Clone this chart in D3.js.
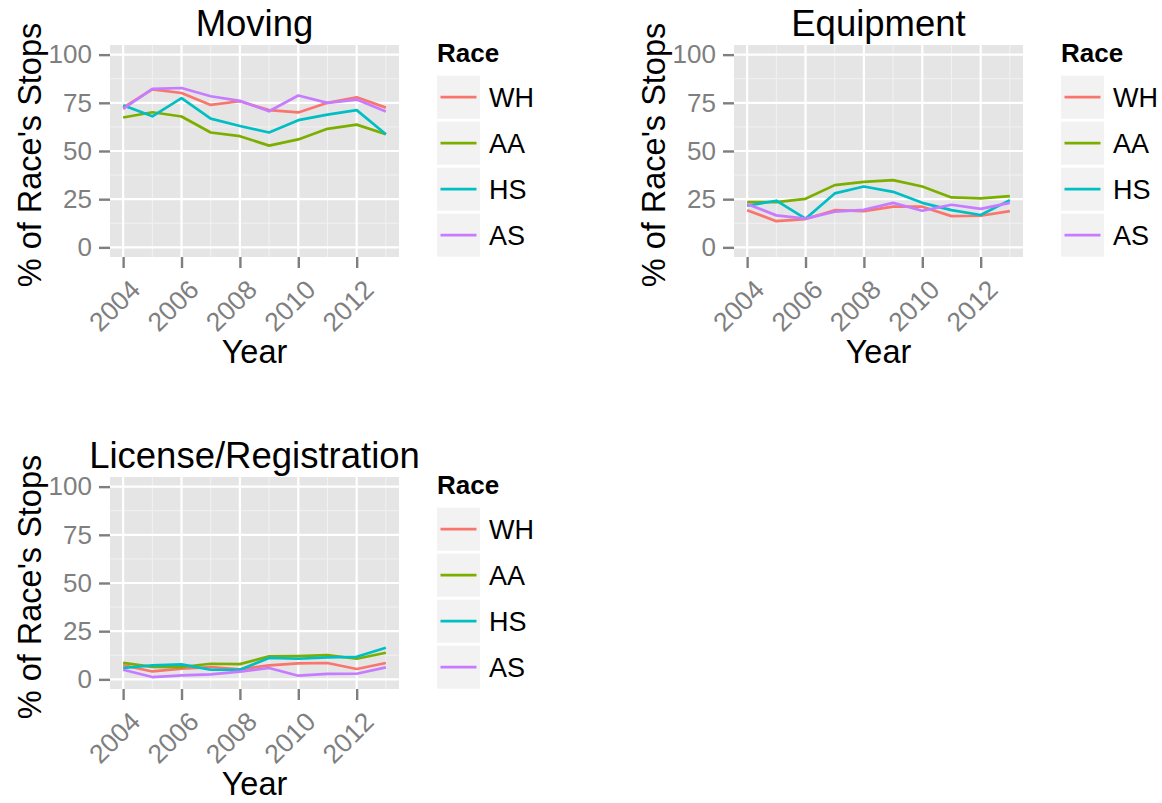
<!DOCTYPE html>
<html>
<head>
<meta charset="utf-8">
<script src="https://cdn.jsdelivr.net/npm/d3@7"></script>
<style>
  html, body { margin: 0; padding: 0; background: #ffffff; }
  svg { display: block; font-family: "Liberation Sans", Arial, Helvetica, sans-serif; }
</style>
</head>
<body>
<svg id="chart" width="1162" height="803"></svg>
<script>
// ---- data ----
const years = [2004, 2005, 2006, 2007, 2008, 2009, 2010, 2011, 2012, 2013];
const races = ["WH", "AA", "HS", "AS"];
const raceColors = ["#F8766D", "#7CAE00", "#00BFC4", "#C77CFF"];
const yTickValues = [0, 25, 50, 75, 100];
const xTickValues = [2004, 2006, 2008, 2010, 2012];
const panelTitles = ["Moving", "Equipment", "License/Registration"];

const moving_WH = [72.5, 82.0, 80.1, 73.9, 75.8, 71.2, 70.0, 75.0, 77.9, 72.5];
const moving_AA = [67.4, 70.1, 67.9, 59.6, 57.7, 52.8, 56.0, 61.5, 63.7, 58.7];
const moving_HS = [73.7, 68.0, 77.4, 66.8, 63.0, 59.6, 66.0, 68.9, 71.2, 58.7];
const moving_AS = [71.8, 82.2, 82.7, 78.4, 76.0, 70.6, 78.8, 75.0, 76.7, 70.5];

const equip_WH = [19.3, 13.6, 14.7, 19.3, 18.8, 21.1, 21.1, 16.2, 16.4, 18.8];
const equip_AA = [23.5, 23.5, 25.2, 32.3, 34.0, 34.9, 31.6, 25.9, 25.4, 26.6];
const equip_HS = [21.6, 24.2, 14.9, 28.0, 31.6, 28.8, 23.1, 19.3, 16.8, 24.5];
const equip_AS = [22.5, 16.6, 14.9, 18.5, 19.5, 23.1, 19.0, 22.1, 20.0, 23.1];

const license_WH = [7.3, 4.1, 5.5, 6.4, 5.2, 7.3, 8.3, 8.5, 5.4, 8.5];
const license_AA = [8.6, 6.5, 6.4, 8.1, 7.9, 11.9, 12.1, 12.6, 10.7, 13.8];
const license_HS = [5.9, 7.3, 7.8, 5.0, 5.0, 11.1, 10.7, 11.4, 11.7, 16.4];
const license_AS = [5.0, 1.2, 2.1, 2.6, 4.0, 5.9, 1.9, 2.8, 2.9, 6.2];

const panelSeries = [
  [moving_WH, moving_AA, moving_HS, moving_AS],
  [equip_WH, equip_AA, equip_HS, equip_AS],
  [license_WH, license_AA, license_HS, license_AS]
];

// ---- layout ----
const panelW = 289, panelH = 212;
const panelOrigins = [[110, 45], [734, 45], [110, 477]];

const svg = d3.select("#chart");
const FONT = '"Liberation Sans", Arial, Helvetica, sans-serif';

const x = d3.scaleLinear().domain([2004 - 0.45, 2013 + 0.45]).range([0, panelW]);
const y = d3.scaleLinear().domain([-5, 105]).range([panelH, 0]);
const color = d3.scaleOrdinal().domain(races).range(raceColors);

const line = d3.line().x(d => x(d[0])).y(d => y(d[1]));

panelTitles.forEach((title, pi) => {
  const [ox, oy] = panelOrigins[pi];
  const g = svg.append("g").attr("transform", `translate(${ox},${oy})`);

  // background
  g.append("rect").attr("width", panelW).attr("height", panelH).attr("fill", "#e5e5e5");

  // minor grid
  const yMinor = [12.5, 37.5, 62.5, 87.5];
  const xMinor = [2005, 2007, 2009, 2011, 2013];
  g.selectAll(".ymin").data(yMinor).join("line")
    .attr("x1", 0).attr("x2", panelW).attr("y1", d => y(d)).attr("y2", d => y(d))
    .attr("stroke", "#f2f2f2").attr("stroke-width", 1);
  g.selectAll(".xmin").data(xMinor).join("line")
    .attr("y1", 0).attr("y2", panelH).attr("x1", d => x(d)).attr("x2", d => x(d))
    .attr("stroke", "#f2f2f2").attr("stroke-width", 1);
  // major grid
  g.selectAll(".ymaj").data(yTickValues).join("line")
    .attr("x1", 0).attr("x2", panelW).attr("y1", d => y(d)).attr("y2", d => y(d))
    .attr("stroke", "#ffffff").attr("stroke-width", 2.2);
  g.selectAll(".xmaj").data(xTickValues).join("line")
    .attr("y1", 0).attr("y2", panelH).attr("x1", d => x(d)).attr("x2", d => x(d))
    .attr("stroke", "#ffffff").attr("stroke-width", 2.2);

  // lines
  panelSeries[pi].forEach((vals, ri) => {
    g.append("path")
      .datum(years.map((yr, i) => [yr, vals[i]]))
      .attr("d", line)
      .attr("fill", "none")
      .attr("stroke", color(races[ri]))
      .attr("stroke-width", 2.7)
      .attr("stroke-linejoin", "round");
  });

  // y axis
  const ya = g.append("g").call(d3.axisLeft(y).tickValues(yTickValues).tickSize(11).tickPadding(7));
  ya.select(".domain").remove();
  ya.selectAll(".tick line").attr("stroke", "#7f7f7f").attr("stroke-width", 2.4);
  ya.selectAll(".tick text").attr("fill", "#7f7f7f").style("font-size", "26px").style("font-family", FONT);

  // x axis
  const xa = g.append("g").attr("transform", `translate(0,${panelH})`)
    .call(d3.axisBottom(x).tickValues(xTickValues).tickSize(11).tickFormat(d3.format("d")));
  xa.select(".domain").remove();
  xa.selectAll(".tick line").attr("stroke", "#7f7f7f").attr("stroke-width", 2.4);
  xa.selectAll(".tick text")
    .attr("fill", "#7f7f7f").style("font-size", "26.5px").style("font-family", FONT)
    .attr("text-anchor", "end")
    .attr("y", 0).attr("dy", "0.71em")
    .attr("transform", "translate(5,21) rotate(-45)");

  // title
  g.append("text").attr("x", panelW / 2).attr("y", -9.5)
    .attr("text-anchor", "middle").style("font-size", "36.5px").style("font-family", FONT)
    .attr("fill", "#000").text(title);

  // axis titles
  g.append("text").attr("x", panelW / 2).attr("y", panelH + 106)
    .attr("text-anchor", "middle").style("font-size", "32.5px").style("font-family", FONT)
    .attr("fill", "#000").text("Year");
  g.append("text").attr("transform", `translate(-69,${panelH / 2 + 4}) rotate(-90)`)
    .attr("text-anchor", "middle").style("font-size", "32.5px").style("font-family", FONT)
    .attr("fill", "#000").text("% of Race's Stops");

  // legend
  const lg = g.append("g").attr("transform", `translate(${panelW + 38},0)`);
  lg.append("text").attr("x", 0).attr("y", 17)
    .style("font-size", "26px").style("font-weight", "bold").style("font-family", FONT)
    .attr("fill", "#000").text("Race");
  const items = lg.selectAll(".item").data(races).join("g")
    .attr("transform", (d, i) => `translate(0,${30.7 + i * 46})`);
  items.append("rect").attr("width", 43).attr("height", 43).attr("fill", "#f2f2f2");
  items.append("line").attr("x1", 3.5).attr("x2", 39.5).attr("y1", 21.5).attr("y2", 21.5)
    .attr("stroke", d => color(d)).attr("stroke-width", 2.7);
  items.append("text").attr("x", 52).attr("y", 21.5).attr("dy", "0.36em")
    .style("font-size", "27px").style("font-family", FONT).attr("fill", "#000").text(d => d);
});
</script>
</body>
</html>
